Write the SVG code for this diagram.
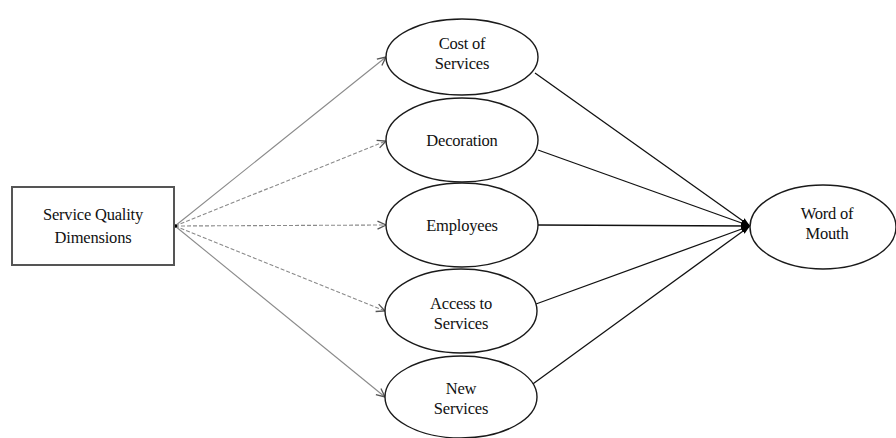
<svg xmlns="http://www.w3.org/2000/svg" width="896" height="438" viewBox="0 0 896 438">
  <style>
    .node { fill: #ffffff; stroke: #1a1a1a; stroke-width: 1.4; }
    .box { fill: #ffffff; stroke: #555555; stroke-width: 2; }
    .lbl { font-family: "Liberation Serif", "Times New Roman", serif; font-size: 16.5px; fill: #111111; text-anchor: middle; letter-spacing: -0.2px; }
    .fan { stroke: #8a8a8a; stroke-width: 1.1; fill: none; marker-end: url(#open); }
    .dash { stroke-dasharray: 4 2; }
    .join { stroke: #111111; stroke-width: 1.3; fill: none; marker-end: url(#solid); }
  </style>
  <defs>
    <marker id="open" viewBox="0 0 10 10" refX="9.5" refY="5" markerWidth="10" markerHeight="10" markerUnits="userSpaceOnUse" orient="auto">
      <path d="M1,1 L9.5,5 L1,9" fill="none" stroke="#555555" stroke-width="1.3"/>
    </marker>
    <marker id="solid" viewBox="0 0 10 10" refX="10" refY="5" markerWidth="9" markerHeight="9" markerUnits="userSpaceOnUse" orient="auto">
      <path d="M0,1.5 L10,5 L0,8.5 Z" fill="#000000"/>
    </marker>
  </defs>

  <g id="connectors">
    <line class="fan" x1="175" y1="226" x2="386" y2="57"/>
    <line class="fan dash" x1="175" y1="226" x2="386" y2="141"/>
    <line class="fan dash" x1="175" y1="226" x2="386" y2="225"/>
    <line class="fan dash" x1="175" y1="226" x2="385" y2="311"/>
    <line class="fan" x1="175" y1="226" x2="385" y2="397"/>
    <circle cx="175.5" cy="226" r="1.8" fill="#000000"/>
    <line class="join" x1="535" y1="73" x2="750" y2="226"/>
    <line class="join" x1="538" y1="150" x2="750" y2="226"/>
    <line class="join" x1="538" y1="225" x2="750" y2="226"/>
    <line class="join" x1="536" y1="304" x2="750" y2="226"/>
    <line class="join" x1="530" y1="386" x2="750" y2="226"/>
  </g>

  <g id="service-quality">
    <rect class="box" x="12" y="187" width="162" height="78"/>
    <text class="lbl" x="93" y="220">Service Quality</text>
    <text class="lbl" x="93" y="243">Dimensions</text>
  </g>

  <g id="cost-of-services">
    <ellipse class="node" cx="462" cy="57" rx="76" ry="38"/>
    <text class="lbl" x="462" y="49">Cost of</text>
    <text class="lbl" x="462" y="69">Services</text>
  </g>

  <g id="decoration">
    <ellipse class="node" cx="462" cy="140" rx="76" ry="42"/>
    <text class="lbl" x="462" y="146">Decoration</text>
  </g>

  <g id="employees">
    <ellipse class="node" cx="462" cy="225" rx="76" ry="42"/>
    <text class="lbl" x="462" y="231">Employees</text>
  </g>

  <g id="access-to-services">
    <ellipse class="node" cx="461" cy="311" rx="76" ry="42"/>
    <text class="lbl" x="461" y="309">Access to</text>
    <text class="lbl" x="461" y="329">Services</text>
  </g>

  <g id="new-services">
    <ellipse class="node" cx="461" cy="397" rx="76" ry="41"/>
    <text class="lbl" x="461" y="394">New</text>
    <text class="lbl" x="461" y="414">Services</text>
  </g>

  <g id="word-of-mouth">
    <ellipse class="node" cx="823" cy="227" rx="73" ry="42"/>
    <text class="lbl" x="827" y="219">Word of</text>
    <text class="lbl" x="827" y="239">Mouth</text>
  </g>
</svg>
